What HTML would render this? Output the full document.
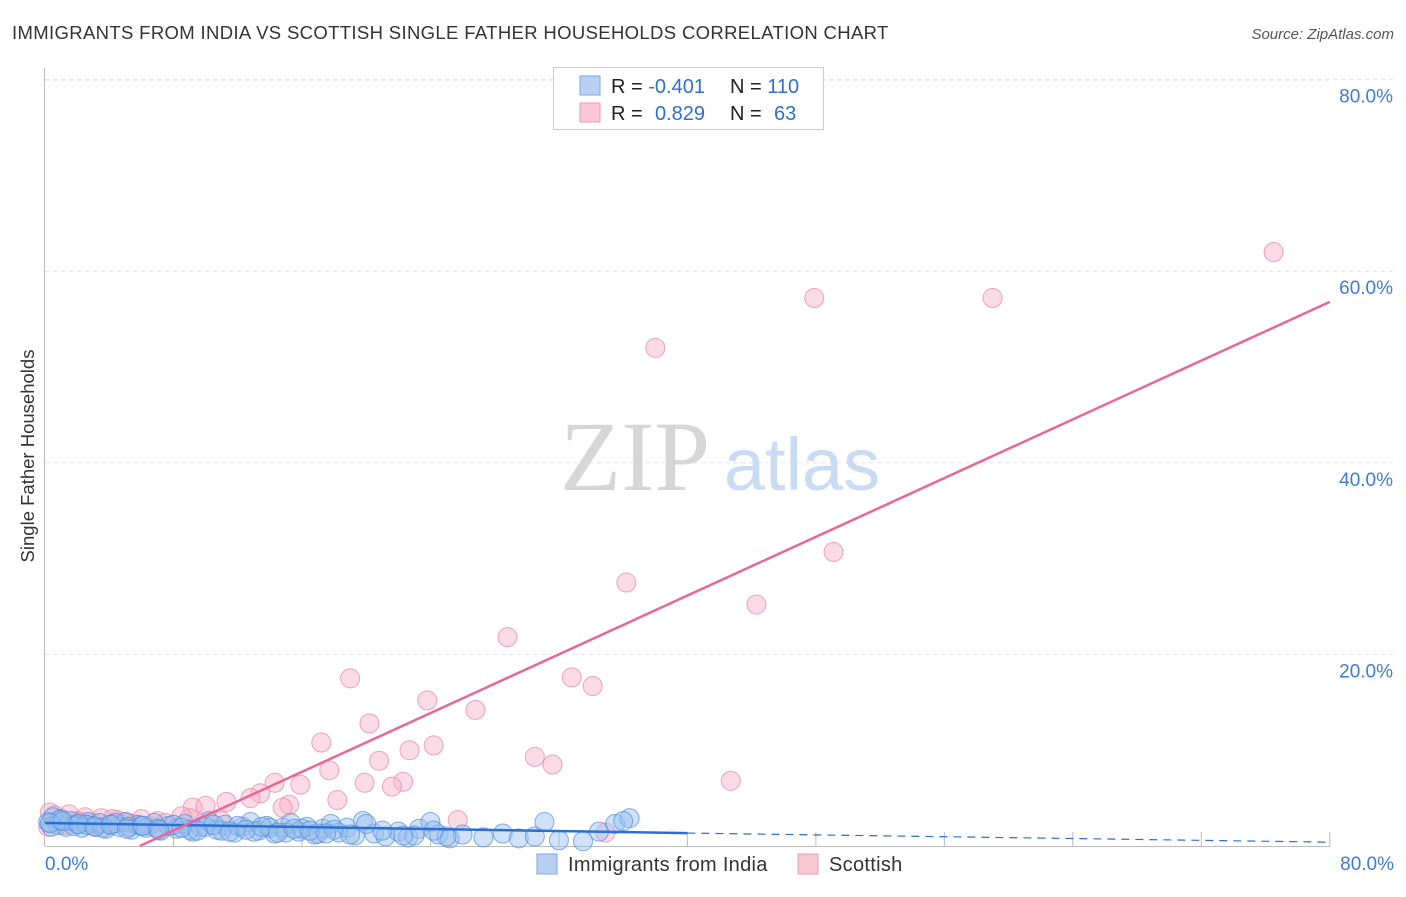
<!DOCTYPE html>
<html><head><meta charset="utf-8"><style>
body{margin:0;background:#fff;font-family:"Liberation Sans",sans-serif;}
svg text{font-family:"Liberation Sans",sans-serif;}
</style></head><body>
<svg width="1406" height="892" xmlns="http://www.w3.org/2000/svg">
<text x="12" y="39" font-size="18.5" letter-spacing="0.35" fill="#333">IMMIGRANTS FROM INDIA VS SCOTTISH SINGLE FATHER HOUSEHOLDS CORRELATION CHART</text>
<text x="1394" y="39" font-size="15" fill="#555" font-style="italic" text-anchor="end">Source: ZipAtlas.com</text>
<g id="grid"></g>
<text x="635" y="490" font-size="100" fill="#d6d6d6" style="font-family:'Liberation Serif',serif" text-anchor="middle">ZIP</text>
<text x="802" y="490" font-size="74" fill="#c9dcf3" text-anchor="middle">atlas</text>
<g id="pts"></g>
<g id="lines"></g>
<text transform="translate(34,456) rotate(-90)" font-size="18.5" fill="#333" text-anchor="middle">Single Father Households</text>
<text x="45" y="870" font-size="19" fill="#3f7bd6">0.0%</text>
<text x="1394" y="870" font-size="19" fill="#3f7bd6" text-anchor="end">80.0%</text>
<g>
<rect x="553.5" y="67.5" width="270" height="62" fill="#fff" stroke="#ccc"/>
<rect x="580" y="76" width="20" height="19" fill="#b8d1f3" stroke="#7ea6e0"/>
<rect x="580" y="103" width="20" height="19" fill="#f9c7d6" stroke="#ee9ab4"/>
<text x="611" y="93" font-size="20" fill="#222">R = <tspan fill="#2f6fd0">-0.401</tspan><tspan x="730">N = </tspan><tspan fill="#2f6fd0">110</tspan></text>
<text x="611" y="120" font-size="20" fill="#222">R = <tspan x="655" fill="#2f6fd0">0.829</tspan><tspan x="730">N = </tspan><tspan x="774" fill="#2f6fd0">63</tspan></text>
</g>
<g>
<rect x="537" y="854" width="20" height="20" fill="#b8d1f3" stroke="#7ea6e0"/>
<text x="568" y="871" font-size="20" letter-spacing="0.3" fill="#333">Immigrants from India</text>
<rect x="798" y="854" width="20" height="20" fill="#f9c7d6" stroke="#ee9ab4"/>
<text x="829" y="871" font-size="20" letter-spacing="0.3" fill="#333">Scottish</text>
</g>
</svg>
<script>
const yTicks=[20,40,60,80];
const yTickLabels=["20.0%","40.0%","60.0%","80.0%"];
const xTicks=[8,16,24,32,40,48,56,64,72,80];
const pinkX=[76.5,47.9,59.0,38.0,49.1,36.2,44.3,28.8,19.0,32.8,34.1,23.8,26.8,20.2,17.2,24.2,22.7,30.5,31.6,20.8,17.7,42.7,14.3,19.9,22.3,21.6,15.9,13.4,12.8,18.2,11.3,15.2,14.8,9.2,10.0,25.7,34.9,0.3,0.6,1.0,1.5,2.0,2.5,3.0,3.5,4.0,4.5,5.0,5.5,6.0,6.5,7.0,7.5,8.0,9.0,0.2,1.2,2.2,3.2,4.2,5.2,8.5,11.0];
const pinkY=[62.0,57.2,57.2,52.0,30.7,27.5,25.2,21.8,17.5,17.6,16.7,15.2,14.2,12.8,10.8,10.5,10.0,9.3,8.5,8.9,7.9,6.8,6.6,6.6,6.7,6.2,6.4,5.5,5.0,4.8,4.6,4.3,4.0,4.0,4.2,2.7,1.4,3.5,3.2,2.8,3.3,2.6,3.0,2.4,2.9,2.2,2.7,2.5,2.3,2.8,2.1,2.6,2.4,2.2,2.9,2.0,2.2,2.5,2.0,2.8,2.4,3.1,2.6];
const blueX=[0.2,0.5,0.8,1.0,1.3,1.6,2.0,2.3,2.7,3.0,3.4,3.8,4.2,4.6,5.0,5.4,5.8,6.3,6.8,7.2,7.7,8.2,8.7,9.2,9.7,10.2,10.7,11.2,11.8,12.3,12.8,13.3,13.8,14.3,14.8,15.3,15.8,16.3,16.8,17.3,17.8,18.3,18.8,19.3,19.8,20.5,21.2,22.0,22.6,23.3,24.0,24.5,25.2,26.0,27.3,28.5,29.5,30.5,31.1,32.0,33.5,34.5,35.5,36.4,36.0,0.4,0.9,1.8,2.6,3.6,4.4,5.2,6.0,7.0,8.0,9.0,10.0,11.0,12.0,13.0,14.0,15.0,16.0,17.0,18.0,19.0,21.0,23.0,25.0,0.3,1.1,2.1,3.1,4.1,5.1,6.1,7.1,8.5,9.5,10.5,11.5,12.5,13.5,14.5,15.5,16.5,17.5,20.0,22.3,24.2];
const blueY=[2.5,3.0,2.2,2.8,2.0,2.6,2.3,1.9,2.5,2.1,2.4,1.8,2.3,2.0,2.5,1.7,2.2,1.9,2.4,1.6,2.1,1.8,2.3,1.5,2.0,2.6,1.7,2.2,1.4,2.0,2.5,1.6,2.1,1.3,1.9,2.4,1.5,2.0,1.2,1.8,2.3,1.4,1.9,1.1,2.6,1.3,1.0,1.5,0.9,1.8,2.5,1.2,0.8,1.2,0.9,1.3,0.8,1.0,2.5,0.6,0.5,1.5,2.3,2.9,2.6,2.0,2.7,2.1,2.2,1.9,2.4,2.0,2.1,1.8,2.2,1.7,2.0,1.6,2.1,1.5,1.9,1.4,1.8,1.3,1.7,1.2,1.6,1.1,1.0,2.4,2.6,2.3,2.0,2.2,1.8,2.1,1.7,1.9,1.6,2.2,1.5,1.7,2.0,1.4,1.8,1.6,1.3,2.3,1.1,1.6];
const X=v=>45+v*16.06, Y=v=>846-v*9.58;
const NS="http://www.w3.org/2000/svg";
function mk(t,a,p){const e=document.createElementNS(NS,t);for(const k in a)e.setAttribute(k,a[k]);p.appendChild(e);return e;}
const grid=document.getElementById('grid');
mk('line',{x1:45,y1:80,x2:1330,y2:80,stroke:'#ddd','stroke-dasharray':'4,4'},grid);
yTicks.forEach((t,i)=>{
 const l=mk('line',{x1:45,y1:Y(t),x2:1394,y2:Y(t),stroke:'#e2e2e2','stroke-dasharray':'4,4'},grid);
 
 
 const tx=mk('text',{x:1393,y:Y(t)+23,'font-size':19,fill:'#3f7bd6','text-anchor':'end'},grid);
 tx.textContent=yTickLabels[i];
 
 
});
const ax=mk('line',{x1:44.5,y1:68,x2:44.5,y2:846,stroke:'#bbb'},grid);


const bx=mk('line',{x1:45,y1:846.5,x2:1330,y2:846.5,stroke:'#bbb'},grid);


xTicks.forEach(t=>{
 const l=mk('line',{x1:X(t),y1:832,x2:X(t),y2:846,stroke:'#bbb'},grid);
 
 
});
const pts=document.getElementById('pts');
pinkX.forEach((v,i)=>{
 const c=mk('circle',{cx:X(v),cy:Y(pinkY[i]),r:9.5,fill:'rgba(246,176,198,0.45)',stroke:'rgba(232,130,162,0.7)','stroke-width':1},pts);
 
 
});
blueX.forEach((v,i)=>{
 const c=mk('circle',{cx:X(v),cy:Y(blueY[i]),r:9.5,fill:'rgba(150,190,238,0.45)',stroke:'rgba(80,140,220,0.7)','stroke-width':1},pts);
 
 
});
const lines=document.getElementById('lines');
const bl=mk('line',{x1:X(0),y1:Y(2.4),x2:X(40),y2:Y(1.35),stroke:'#2a6ed6','stroke-width':2.5},lines);


const bd=mk('line',{x1:X(40),y1:Y(1.35),x2:X(80),y2:Y(0.4),stroke:'#2a6ed6','stroke-width':1.2,'stroke-dasharray':'8,6'},lines);


const pl=mk('line',{x1:X(5.9),y1:Y(0),x2:X(80),y2:Y(56.8),stroke:'#e8679a','stroke-width':2.5},lines);


</script>
</body></html>
